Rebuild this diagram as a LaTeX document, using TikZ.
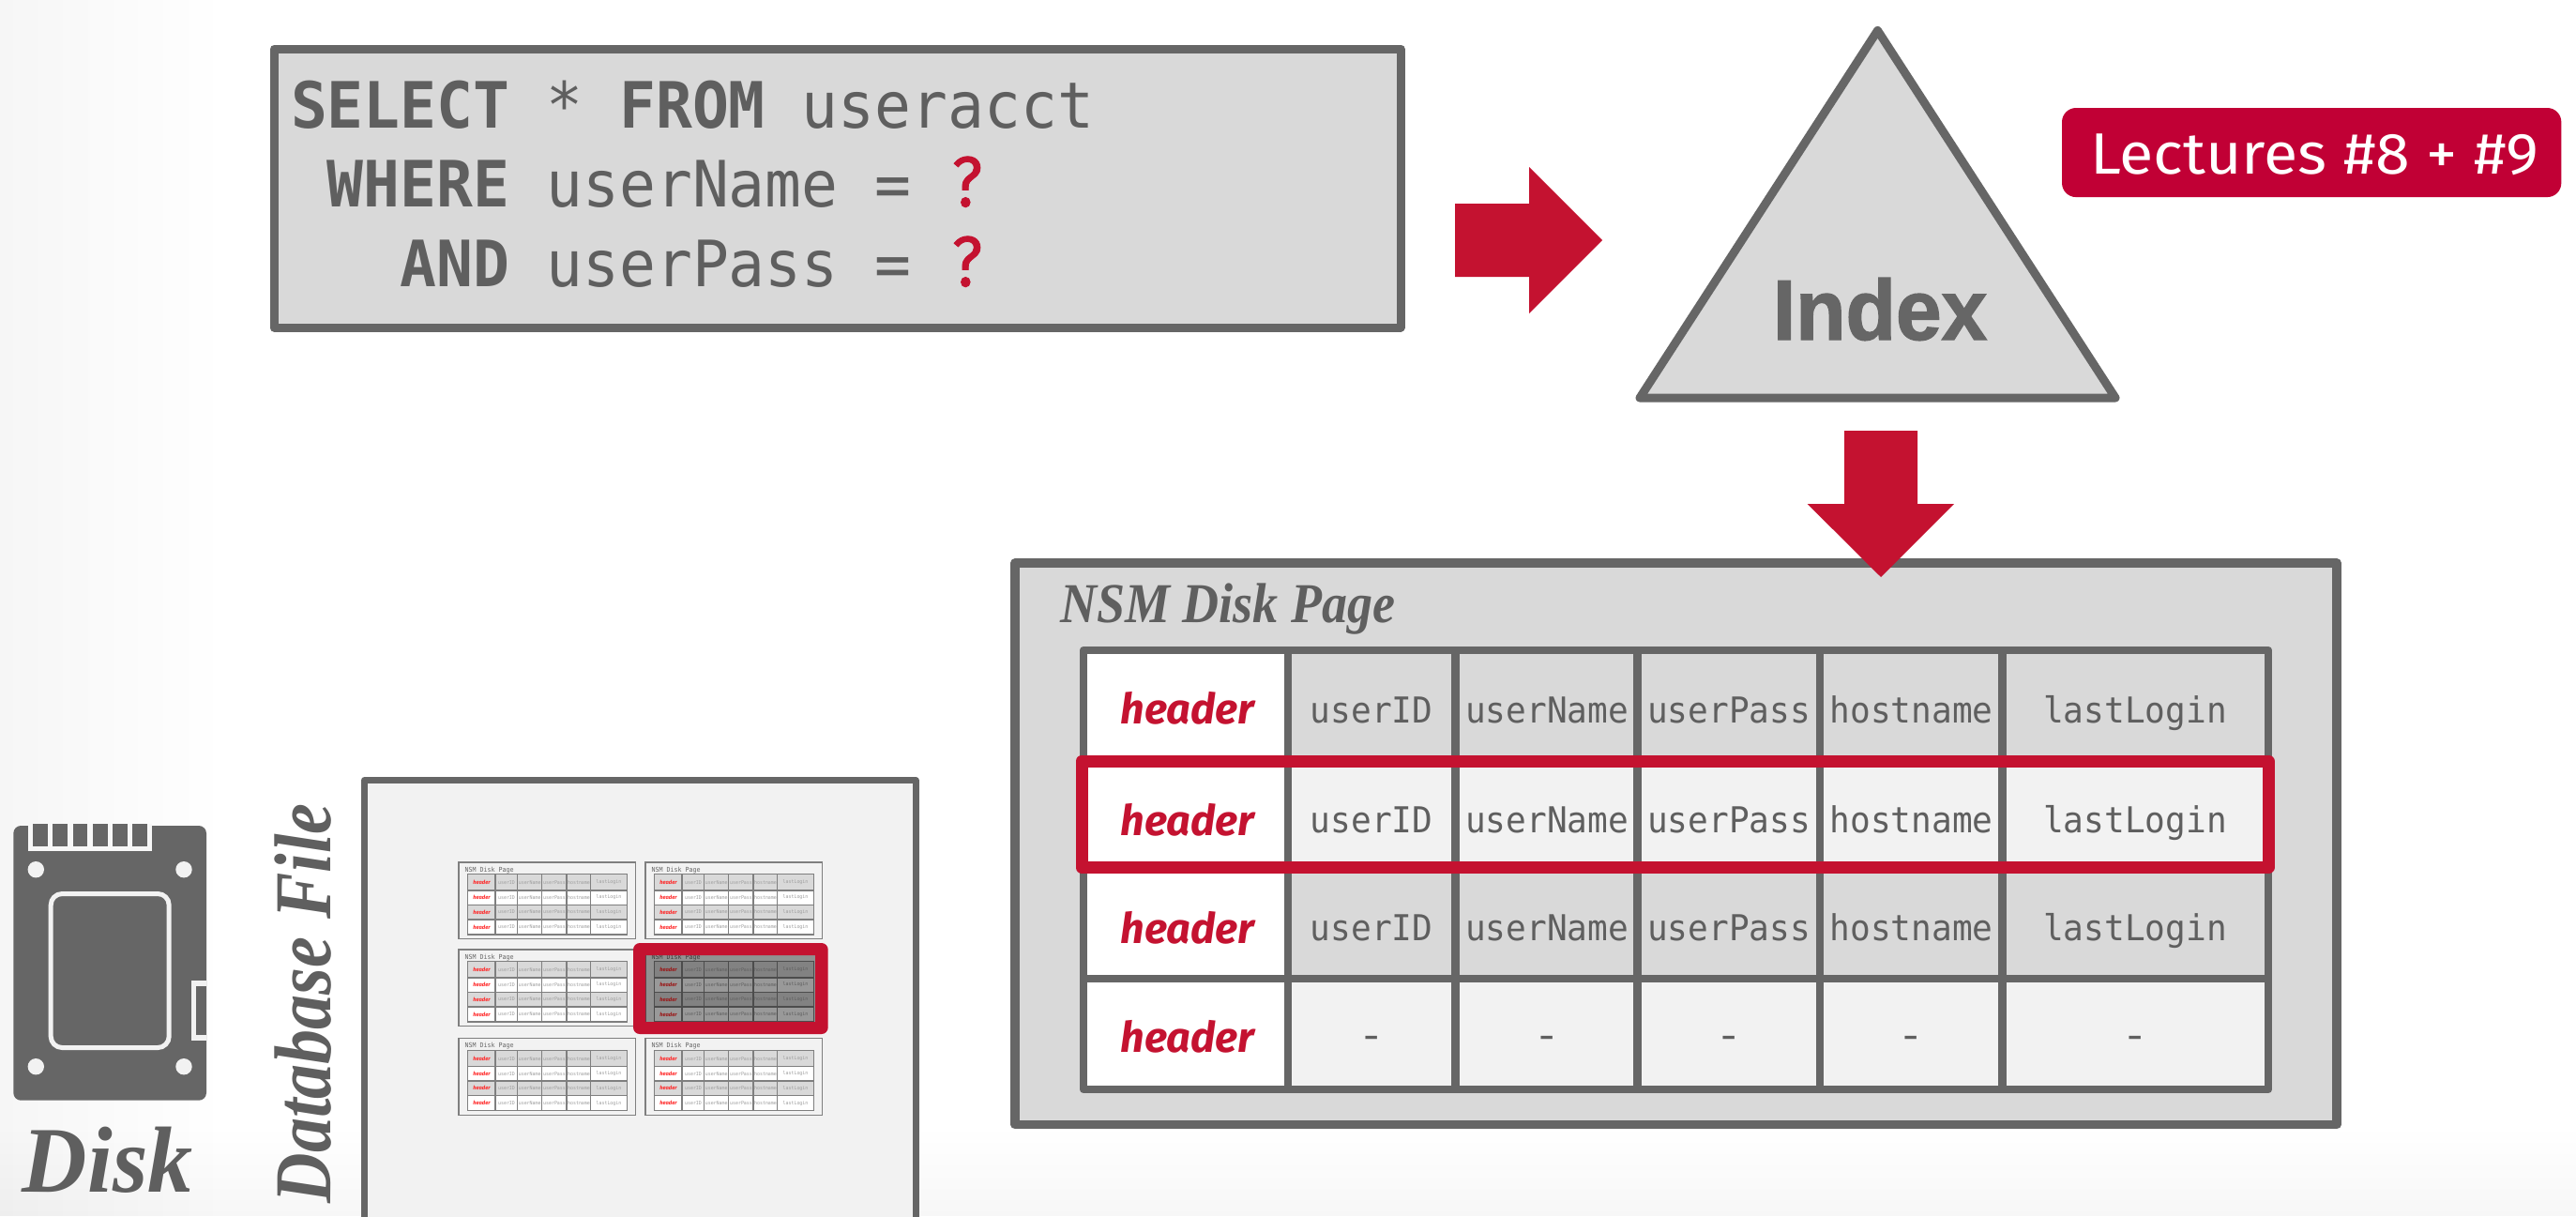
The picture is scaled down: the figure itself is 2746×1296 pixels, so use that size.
\documentclass[tikz,border=0pt]{standalone}
\usepackage{fontspec}
\usepackage{graphicx}
\usetikzlibrary{fadings}
\setmainfont{Liberation Serif}
\newfontfamily\monof[FakeStretch=0.95]{DejaVu Sans Mono}
\newfontfamily\serifa[FakeStretch=0.86]{Liberation Serif}
\newfontfamily\serifb[FakeStretch=0.90]{Liberation Serif}
\newfontfamily\serifc[FakeStretch=0.96]{Liberation Serif}
\newfontfamily\firaf{Fira Sans}
\newfontfamily\firaq[FakeStretch=0.92,FakeBold=1]{Fira Sans}
\newfontfamily\firaw[FakeStretch=1.07]{Fira Sans}
\newfontfamily\arialf[FakeStretch=0.96,FakeBold=1.5]{Liberation Sans}
\newcommand\pxfont[1]{\fontsize{\fpeval{#1*0.28453}}{\fpeval{#1*0.28453}}\selectfont}
\newcommand\qmark{\makebox[38.9\dimexpr 0.28453pt\relax][c]{\hspace{0.6pt}\textcolor{crim}{\firaq\pxfont{76}?}}}
\definecolor{dk}{HTML}{666666}
\definecolor{txt}{HTML}{5F5F5F}
\definecolor{cellA}{HTML}{D9D9D9}
\definecolor{cellB}{HTML}{F2F2F2}
\definecolor{crim}{HTML}{C41230}
\definecolor{badge}{HTML}{C10035}
\definecolor{thumbline}{HTML}{7F7F7F}
\tikzset{
  lbl/.style={inner sep=0pt,outer sep=0pt},
  boxline/.style={draw=dk,line width=0.09cm,line join=round},
  gridline/.style={draw=dk,line width=0.085cm},
  cellfmt/.style={lbl,anchor=base,text=txt,font=\monof\pxfont{38}},
  hdrfmt/.style={lbl,anchor=base,text=crim,font=\firaf\bfseries\itshape\pxfont{45}},
  sqlfmt/.style={lbl,anchor=base west,text=txt,font=\monof\pxfont{68}},
  redarrow/.style={fill=crim,draw=none},
  icon/.style={fill=dk,draw=none},
  iconlight/.style={fill=cellB,draw=none},
  thumbtxt/.style={lbl,anchor=center,text=black!38,font=\monof\pxfont{5.2}},
  thumbhdr/.style={lbl,anchor=center,text=red!85!white,font=\firaf\bfseries\itshape\pxfont{5.8}}
}
\newcommand\thumbpage[2]{%
  \begin{scope}[shift={(#1,#2)}]
    \draw[draw=thumbline,fill=cellB,line width=0.012cm] (0,0) rectangle (188.7,81.7);
    \node[lbl,anchor=base west,text=dk,font=\monof\pxfont{7}] at (6.5,10) {NSM Disk Page};
    \fill[cellA] (9.7,12.7) rectangle (179.3,30);
    \fill[white] (9.7,30) rectangle (179.3,45.3);
    \fill[cellA] (9.7,45.3) rectangle (179.3,61);
    \fill[white] (9.7,61) rectangle (179.3,77);
    \draw[draw=thumbline,line width=0.012cm] (9.7,12.7) rectangle (179.3,77);
    \foreach \cx in {39,62.7,88.7,115,140.7}
      \draw[draw=thumbline,line width=0.012cm] (\cx,12.7) -- (\cx,77);
    \foreach \ry in {30,45.3,61}
      \draw[draw=thumbline,line width=0.012cm] (9.7,\ry) -- (179.3,\ry);
    \foreach \ry in {21.5,37.5,53,69}{
      \node[thumbhdr] at (24.5,\ry) {header};
      \node[thumbtxt] at (51,\ry) {userID};
      \node[thumbtxt] at (75.7,\ry) {userName};
      \node[thumbtxt] at (102,\ry) {userPass};
      \node[thumbtxt] at (128,\ry) {hostname};
      \node[thumbtxt] at (160,\ry) {lastLogin};
    }
  \end{scope}}
\begin{document}
\begin{tikzpicture}[x=0.01cm,y=-0.01cm]
\clip (0,0) rectangle (2746,1296);
\useasboundingbox (0,0) rectangle (2746,1296);
% background
\fill[white] (0,0) rectangle (2746,1296);
\fill[black,opacity=0.035,path fading=east] (0,0) rectangle (240,1296);
\fill[black,opacity=0.03,path fading=north] (0,1200) rectangle (2746,1296);

% SQL box
\draw[boxline,fill=cellA] (292,52) rectangle (1493,349);
\node[sqlfmt] (sqlA) at (310,136) {\bfseries SELECT\mdseries{} * \bfseries FROM\mdseries{} useracct};
\node[sqlfmt] (sqlB) at (310,220) {~\bfseries WHERE\mdseries{} userName = \qmark};
\node[sqlfmt] (sqlC) at (310,305) {~~~\bfseries AND\mdseries{} userPass = \qmark};

% right arrow
\path[redarrow] (1551,217) -- (1630,217) -- (1630,178) -- (1708,256) -- (1630,334) -- (1630,295) -- (1551,295) -- cycle;

% index triangle
\draw[boxline,fill=cellA] (2001.5,32.5) -- (2255,424) -- (1748,424) -- cycle;
\node[lbl,anchor=base,text=dk,font=\arialf\bfseries\pxfont{91}] (idx) at (2004,362) {Index};

% badge
\node[lbl,fill=badge,rounded corners=0.15cm,minimum width=5.32cm,minimum height=0.95cm,anchor=north west] (bdg) at (2198,115) {};
\node[lbl,anchor=base west,text=white,font=\firaw\pxfont{62}] (bdgt) at (2228,185) {Lectures \#8 + \#9};

% NSM page
\draw[boxline,fill=cellA,line width=0.095cm] (1082,600) rectangle (2491,1198.5);
\node[lbl,anchor=base west,text=txt,font=\serifb\bfseries\itshape\pxfont{60}] (nsm) at (1130,663.5) {NSM Disk Page};

% table cells
\fill[white] (1155,693) rectangle (1373,1161);
\fill[cellA] (1373,693) rectangle (2418,811);
\fill[cellB] (1373,811) rectangle (2418,924.5);
\fill[cellA] (1373,924.5) rectangle (2418,1043);
\fill[cellB] (1373,1043) rectangle (2418,1161);
\foreach \cx in {1373,1551.6,1745.7,1940,2134.7}
  \draw[gridline] (\cx,693) -- (\cx,1161);
\draw[gridline] (1155,1043) -- (2418,1043);
\draw[gridline,line join=round] (1155,693) rectangle (2418,1161);

% table text
\foreach \i/\hy in {1/771,2/890,3/1005.5,4/1121}{
  \node[hdrfmt] (hdr\i) at (1266,\hy) {header};
}
\foreach \i/\by in {1/770,2/887,3/1002}{
  \node[cellfmt] (idc\i) at (1462,\by) {userID};
  \node[cellfmt] (nmc\i) at (1649,\by) {userName};
  \node[cellfmt] (psc\i) at (1843,\by) {userPass};
  \node[cellfmt] (hsc\i) at (2037.5,\by) {hostname};
  \node[cellfmt] (llc\i) at (2276,\by) {lastLogin};
}
\foreach \cx/\nm in {1462/a,1649/b,1843/c,2037.5/d,2276/e}
  \node[cellfmt] (dash\nm) at (\cx,1117) {\scalebox{1.35}[1.1]{-}};

% red row highlight
\draw[draw=crim,line width=0.13cm,line join=round] (1153,811) rectangle (2418,924.5);

% down arrow
\path[redarrow] (1966,459) -- (2044,459) -- (2044,537) -- (2083,537) -- (2005,615) -- (1926.6,537) -- (1966,537) -- cycle;

% database file
\draw[draw=dk,fill=cellB,line width=0.07cm,line join=round] (388.5,831.5) rectangle (976,1340);
\node[lbl,rotate=90,anchor=base west,text=txt,font=\serifa\bfseries\itshape\pxfont{86}] (dbf) at (352.7,1282) {Database File};

% thumbnails
\foreach \tx in {489,688}
  \foreach \ty in {919,1012,1106.7}
    {\thumbpage{\tx}{\ty}}
\fill[black,opacity=0.40] (688,1018) rectangle (870,1089);
\fill[crim,even odd rule,rounded corners=0.07cm] (675,1005) rectangle (882.7,1102)
  [sharp corners] (688,1018) rectangle (869,1089);

% disk icon
\fill[icon,rounded corners=0.08cm] (14.3,880) rectangle (220,1172.7);
\fill[white!97!black] (30,878) rectangle (162,907);
\foreach \ax/\bx in {35/51,56.3/72.3,77.7/93.3,98.7/114.7,120/135.7,140.7/156.7}
  \fill[icon] (\ax,878) rectangle (\bx,901.7);
\foreach \hx/\hy in {38.3/926.7,196/926.7,38.3/1136.7,196/1136.7}
  \fill[iconlight] (\hx,\hy) circle (0.087cm);
\draw[draw=cellB,fill=dk,line width=0.05cm,rounded corners=0.12cm] (54.2,952.5) rectangle (180.2,1116.5);
\fill[iconlight] (204,1045) rectangle (220,1108.7);
\fill[icon] (209,1050.7) rectangle (220,1103.3);
\node[lbl,anchor=base west,text=txt,font=\serifc\bfseries\itshape\pxfont{100}] (dsk) at (24,1270.7) {Disk};
\end{tikzpicture}
\end{document}
